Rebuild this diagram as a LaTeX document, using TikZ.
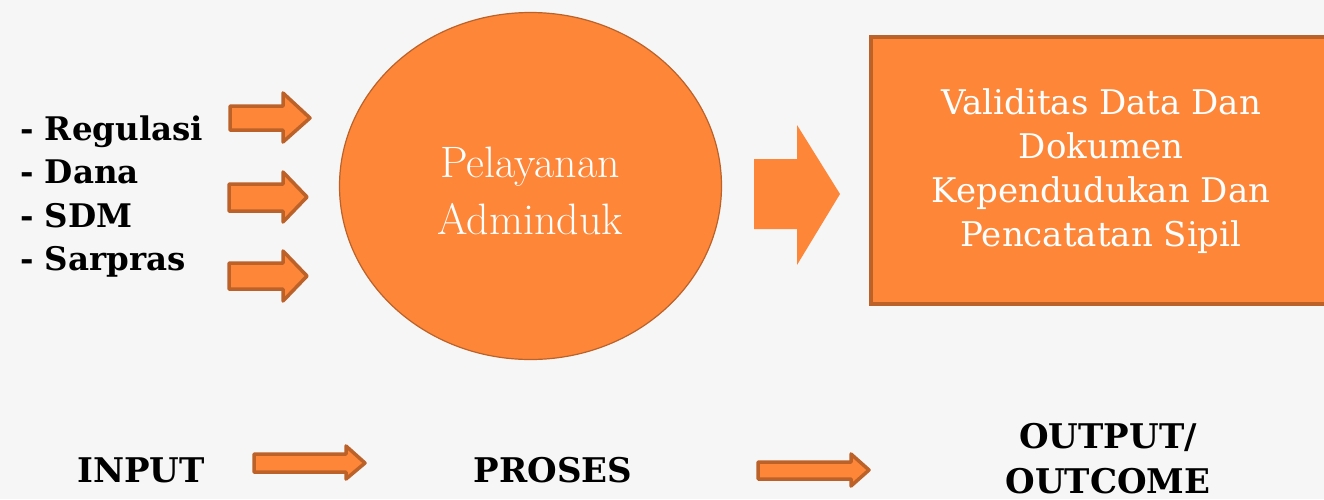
\documentclass[tikz,border=0pt]{standalone}
\usepackage{fontspec}
\usetikzlibrary{shapes.geometric}
\newfontfamily\schoolfont{DejaVu Serif}
\definecolor{orangefill}{HTML}{FD8638}
\definecolor{orangeedge}{HTML}{BC6229}
\definecolor{pagebg}{HTML}{F6F6F6}
\tikzset{
  blockfill/.style={fill=orangefill},
  outlinearrow/.style={fill=orangefill, draw=orangeedge, line width=3.5pt, line join=round},
  listtext/.style={anchor=base west, font=\schoolfont\fontsize{32.5}{36}\selectfont\bfseries, inner sep=0pt},
  labeltext/.style={anchor=base, font=\schoolfont\fontsize{34}{45}\selectfont\bfseries, inner sep=0pt, align=center},
  whitetext/.style={text=white, align=center, inner sep=0pt}
}
\begin{document}
\begin{tikzpicture}[x=1pt,y=-1pt]
  % page
  \fill[pagebg] (0,0) rectangle (1324,499);
  \useasboundingbox (0,0) rectangle (1324,499);

  % input list
  \node[listtext] (reg) at (20,140) {- Regulasi};
  \node[listtext] (dana) at (20,183) {- Dana};
  \node[listtext] (sdm) at (20,227) {- SDM};
  \node[listtext] (sar) at (20,270) {- Sarpras};

  % small input arrows
  \draw[outlinearrow] (230,106) -- (283,106) -- (283,93) -- (310,118) -- (283,142) -- (283,130) -- (230,130) -- cycle;
  \draw[outlinearrow] (229,184) -- (283,184) -- (283,172) -- (307,197) -- (283,222) -- (283,211) -- (229,211) -- cycle;
  \draw[outlinearrow] (229,263) -- (283,263) -- (283,251) -- (307,276) -- (283,301) -- (283,289) -- (229,289) -- cycle;

  % process ellipse
  \node[ellipse, fill=orangefill, draw=orangeedge, line width=1.2pt,
        minimum width=382pt, minimum height=347pt, inner sep=0pt] (proc) at (530.5,186) {};
  \node[whitetext, font=\fontsize{44}{57}\selectfont] (proctext) at (530,191) {Pelayanan\\Adminduk};

  % big arrow towards the output box
  \fill[blockfill] (754,159) -- (797,159) -- (797,125) -- (840,194) -- (797,265) -- (797,229) -- (754,229) -- cycle;

  % output box
  \node[draw=orangeedge, fill=orangefill, line width=4pt, anchor=north west,
        minimum width=460pt, minimum height=267pt, inner sep=0pt] (out) at (869,35) {};
  \node[whitetext, font=\schoolfont\fontsize{34}{44}\selectfont] (outtext) at (1101,171)
    {Validitas Data Dan\\Dokumen\\Kependudukan Dan\\Pencatatan Sipil};

  % bottom row
  \node[labeltext] (inp) at (141,482) {INPUT};
  \draw[outlinearrow] (254,454) -- (346,454) -- (346,446) -- (365,463) -- (346,479) -- (346,472) -- (254,472) -- cycle;
  \node[labeltext] (pros) at (553,482) {PROSES};
  \draw[outlinearrow] (758,462) -- (851,462) -- (851,454) -- (869,470) -- (851,486) -- (851,479) -- (758,479) -- cycle;
  \node[labeltext] (outc) at (1108,493) {OUTPUT/\\OUTCOME};
\end{tikzpicture}
\end{document}
